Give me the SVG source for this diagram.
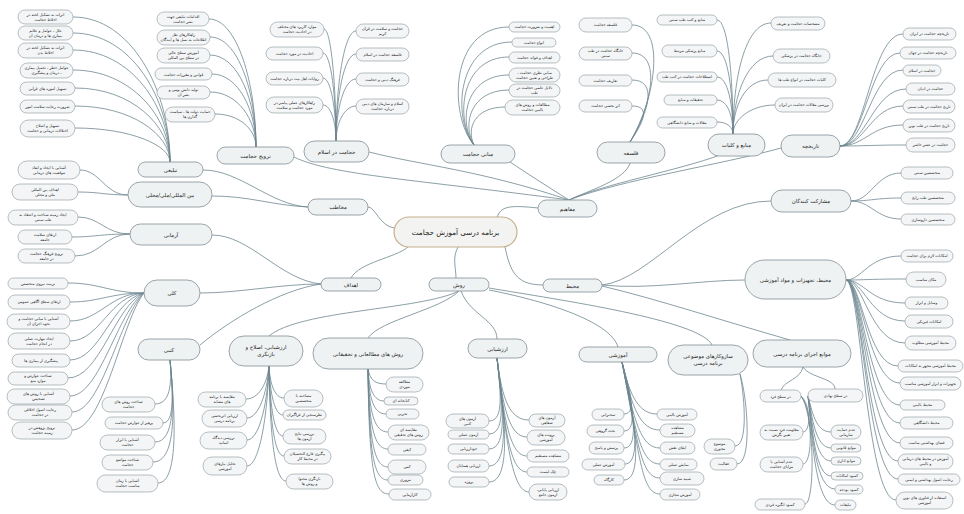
<svg xmlns="http://www.w3.org/2000/svg" width="964" height="514" viewBox="0 0 964 514">
<style>
rect{fill:#f3f5f6;stroke:#99a3a8;stroke-width:.7}
.m rect{fill:#eff2f3;stroke:#8f9aa0;stroke-width:.9}
.c rect{fill:#f3f3f1;stroke:#c6b08c;stroke-width:1.2}
text{font-family:"DejaVu Sans","Noto Sans",sans-serif;font-size:3.8px;fill:#1c1c1c;text-anchor:middle;direction:rtl}
.m text{font-size:5.4px}
.c text{font-size:7.2px}
#links path{fill:none;stroke:#6f8790;stroke-width:.8}
</style>
<rect x="0" y="0" width="964" height="514" style="fill:#fff;stroke:none"/>
<g id="links">
<path d="M497,218 C500,206 510,205 538,208"/>
<path d="M394,228 C380,226 375,207 368,207"/>
<path d="M408,247 C395,258 360,262 351,278"/>
<path d="M458,247 C452,258 456,268 456,278"/>
<path d="M505,247 C510,270 515,285 543,285"/>
<path d="M294,157 C330,175 420,180 569,200"/>
<path d="M369,152 C420,165 480,170 569,200"/>
<path d="M510,162 C525,172 545,185 569,200"/>
<path d="M630,163 C625,180 590,190 569,200"/>
<path d="M720,155 C680,170 600,185 569,200"/>
<path d="M781,148 C720,165 620,180 569,200"/>
<path d="M602,285 C650,280 700,201 771,201"/>
<path d="M602,285 C650,290 700,280 745,280"/>
<path d="M602,286 C660,300 720,320 790,340"/>
<path d="M459,291 C420,310 300,310 269,336"/>
<path d="M459,291 C440,310 380,320 368,338"/>
<path d="M461,291 C470,315 497,320 497,339"/>
<path d="M489,290 C540,300 610,320 618,347"/>
<path d="M489,288 C560,300 700,320 712,345"/>
<path d="M321,284 C280,280 250,235 212,235"/>
<path d="M321,284 C280,284 240,293 200,293"/>
<path d="M321,284 C280,290 230,320 200,345"/>
<path d="M308,207 C270,205 240,170 203,170"/>
<path d="M308,207 C270,205 250,196 212,196"/>
<path d="M73,17 C131,17 170,90 170,162"/>
<path d="M73,33 C131,33 170,98 170,162"/>
<path d="M73,50 C131,50 170,107 170,162"/>
<path d="M73,70 C131,70 170,117 170,162"/>
<path d="M75,88 C132,88 170,126 170,162"/>
<path d="M75,106 C132,106 170,135 170,162"/>
<path d="M75,128 C132,128 170,146 170,162"/>
<path d="M209,19 C237,19 256,83 256,147"/>
<path d="M210,37 C238,37 256,92 256,147"/>
<path d="M210,55 C238,55 256,101 256,147"/>
<path d="M212,74 C238,74 256,110 256,147"/>
<path d="M210,92 C238,92 256,120 256,147"/>
<path d="M215,114 C240,114 256,130 256,147"/>
<path d="M324,29 C331,29 336,85 336,141"/>
<path d="M323,53 C331,53 336,97 336,141"/>
<path d="M323,78 C331,78 336,110 336,141"/>
<path d="M323,105 C331,105 336,123 336,141"/>
<path d="M356,31 C344,31 336,86 336,141"/>
<path d="M356,54 C344,54 336,98 336,141"/>
<path d="M356,79 C344,79 336,110 336,141"/>
<path d="M356,106 C344,106 336,124 336,141"/>
<path d="M509,27 C449,27 449,116 474,145"/>
<path d="M512,42 C457,42 452,118 474,145"/>
<path d="M509,57 C460,57 455,120 474,145"/>
<path d="M509,75 C465,75 458,122 474,145"/>
<path d="M509,90 C470,90 462,125 474,145"/>
<path d="M505,107 C475,107 466,128 474,145"/>
<path d="M632,25 C667,25 655,102 630,142"/>
<path d="M632,53 C662,53 652,105 630,142"/>
<path d="M632,80 C657,80 650,110 630,142"/>
<path d="M632,106 C650,106 645,120 630,142"/>
<path d="M717,20 C728,20 733,77 733,134"/>
<path d="M717,51 C728,51 733,92 733,134"/>
<path d="M717,77 C728,77 733,105 733,134"/>
<path d="M717,100 C728,100 733,117 733,134"/>
<path d="M717,122 C728,122 733,128 733,134"/>
<path d="M771,23 C745,23 733,79 733,134"/>
<path d="M773,56 C748,56 733,95 733,134"/>
<path d="M768,80 C745,80 733,107 733,134"/>
<path d="M775,105 C750,105 733,120 733,134"/>
<path d="M840,146 C865,146 871,34 903,34"/>
<path d="M840,146 C864,146 870,53 900,53"/>
<path d="M840,146 C865,146 871,70 903,70"/>
<path d="M840,146 C866,146 873,89 906,89"/>
<path d="M840,146 C865,146 871,106 903,106"/>
<path d="M840,146 C865,146 871,125 903,125"/>
<path d="M840,146 C866,146 873,145 906,145"/>
<path d="M851,201 C871,201 876,173 901,173"/>
<path d="M851,201 C871,201 876,198 901,198"/>
<path d="M851,201 C871,201 876,219 901,219"/>
<path d="M846,280 C862,280 868,256 901,256"/>
<path d="M846,280 C864,280 870,279 906,279"/>
<path d="M846,280 C864,280 870,303 905,303"/>
<path d="M846,280 C864,280 870,321 905,321"/>
<path d="M846,280 C864,280 870,343 905,343"/>
<path d="M846,280 C862,280 867,366 898,366"/>
<path d="M846,280 C862,280 868,383 900,383"/>
<path d="M846,280 C862,280 868,405 900,405"/>
<path d="M846,280 C862,280 868,423 900,423"/>
<path d="M846,280 C862,280 868,443 900,443"/>
<path d="M846,280 C862,280 867,461 898,461"/>
<path d="M846,280 C862,280 867,479 898,479"/>
<path d="M846,280 C861,280 866,500 896,500"/>
<path d="M803,367 C800,380 785,380 781,390"/>
<path d="M803,367 C810,378 835,378 835,389"/>
<path d="M801,396 C811,405 811,432 803,432"/>
<path d="M801,396 C813,410 813,464 803,464"/>
<path d="M801,396 C815,415 815,504 805,504"/>
<path d="M808,396 C812,410 815,432 831,432"/>
<path d="M808,396 C812,415 815,448 831,448"/>
<path d="M808,396 C812,420 815,461 831,461"/>
<path d="M808,396 C812,425 815,476 831,476"/>
<path d="M808,396 C812,430 815,489 835,489"/>
<path d="M808,396 C812,435 815,505 835,505"/>
<path d="M740,374 C745,400 748,446 735,446"/>
<path d="M740,374 C748,400 752,464 737,464"/>
<path d="M622,362 C628,385 638,414 624,414"/>
<path d="M622,362 C629,390 640,431 624,431"/>
<path d="M622,362 C630,395 642,448 624,448"/>
<path d="M622,362 C631,400 644,464 625,464"/>
<path d="M622,362 C632,405 646,480 624,480"/>
<path d="M622,362 C630,398 640,414 657,414"/>
<path d="M622,362 C632,410 641,430 660,430"/>
<path d="M622,362 C634,422 641,448 660,448"/>
<path d="M622,362 C636,434 641,464 660,464"/>
<path d="M622,362 C638,444 641,478 660,478"/>
<path d="M622,362 C640,455 641,494 660,494"/>
<path d="M497,358 C500,390 505,421 489,421"/>
<path d="M497,358 C501,395 507,434 489,434"/>
<path d="M497,358 C502,400 509,449 489,449"/>
<path d="M497,358 C503,405 511,466 489,466"/>
<path d="M497,358 C504,410 513,482 489,482"/>
<path d="M497,358 C502,400 510,420 529,420"/>
<path d="M497,358 C503,410 510,437 527,437"/>
<path d="M497,358 C504,420 510,456 527,456"/>
<path d="M497,358 C505,430 510,472 527,472"/>
<path d="M497,358 C506,440 512,492 529,492"/>
<path d="M368,369 C370,380 375,384 386,384"/>
<path d="M368,369 C369,390 374,401 384,401"/>
<path d="M368,369 C369,400 374,414 386,414"/>
<path d="M368,369 C369,415 375,432 388,432"/>
<path d="M368,369 C369,430 375,449 388,449"/>
<path d="M368,369 C369,445 375,467 388,467"/>
<path d="M368,369 C369,460 375,480 388,480"/>
<path d="M368,369 C369,475 375,494 389,494"/>
<path d="M269,366 C270,385 275,398 284,398"/>
<path d="M269,366 C270,395 275,415 283,415"/>
<path d="M269,366 C270,410 275,436 283,436"/>
<path d="M269,366 C270,425 275,456 284,456"/>
<path d="M269,366 C270,445 276,481 286,481"/>
<path d="M269,366 C267,385 258,399 246,399"/>
<path d="M269,366 C267,395 258,418 247,418"/>
<path d="M269,366 C267,410 258,440 247,440"/>
<path d="M269,366 C267,425 258,466 247,466"/>
<path d="M130,234 C105,234 100,217 78,217"/>
<path d="M130,234 C100,234 95,237 72,237"/>
<path d="M130,234 C105,234 100,256 75,256"/>
<path d="M144,293 C110,293 100,283 68,283"/>
<path d="M144,293 C110,293 100,302 70,302"/>
<path d="M144,293 C110,293 100,321 70,321"/>
<path d="M144,293 C110,295 100,341 70,341"/>
<path d="M144,293 C112,300 100,360 70,360"/>
<path d="M144,293 C115,305 100,378 68,378"/>
<path d="M144,293 C118,310 100,396 70,396"/>
<path d="M144,293 C120,315 102,412 72,412"/>
<path d="M144,293 C122,320 104,430 72,430"/>
<path d="M170,360 C172,385 170,404 155,404"/>
<path d="M170,360 C173,390 175,423 163,423"/>
<path d="M170,360 C174,400 175,442 155,442"/>
<path d="M170,360 C175,410 176,462 153,462"/>
<path d="M170,360 C176,420 178,483 158,483"/>
<path d="M128,195 C105,195 100,170 80,170"/>
<path d="M128,195 C105,195 100,192 78,192"/>
</g>
<g id="center" class="c"><rect x="394" y="217" width="123" height="30" rx="15"/><text x="455.5" y="234.5">برنامه درسی آموزش حجامت</text></g>
<g id="mafahim" class="m"><rect x="538" y="200" width="59" height="17" rx="8.5"/><text x="567.5" y="210.5">مفاهیم</text></g>
<g id="mokhatab" class="m"><rect x="308" y="199" width="60" height="16" rx="8"/><text x="338" y="209">مخاطب</text></g>
<g id="ahdaf" class="m"><rect x="321" y="278" width="60" height="13" rx="6.5"/><text x="351" y="286.5">اهداف</text></g>
<g id="ravesh" class="m"><rect x="429" y="278" width="60" height="13" rx="6.5"/><text x="459" y="286.5">روش</text></g>
<g id="mohit" class="m"><rect x="543" y="279" width="59" height="13" rx="6.5"/><text x="572.5" y="287.5">محیط</text></g>
<g id="tarvij" class="m"><rect x="217" y="147" width="77" height="17" rx="8.5"/><text x="255.5" y="157.5">ترویج حجامت</text></g>
<g id="eslam" class="m"><rect x="304" y="141" width="65" height="21" rx="10.5"/><text x="336.5" y="153.5">حجامت در اسلام</text></g>
<g id="mabani" class="m"><rect x="441" y="145" width="74" height="18" rx="9"/><text x="478" y="156">مبانی حجامت</text></g>
<g id="falsafe" class="m"><rect x="597" y="142" width="68" height="21" rx="10.5"/><text x="631" y="154.5">فلسفه</text></g>
<g id="manabe" class="m"><rect x="708" y="134" width="57" height="22" rx="11"/><text x="736.5" y="147">منابع و کلیات</text></g>
<g id="tarikhche" class="m"><rect x="781" y="135" width="59" height="22" rx="11"/><text x="810.5" y="148">تاریخچه</text></g>
<g id="mosharekat" class="m"><rect x="771" y="190" width="80" height="22" rx="11"/><text x="811" y="203">مشارکت کنندگان</text></g>
<g id="tajhizat" class="m"><rect x="745" y="260" width="101" height="39" rx="19.5"/><text x="795.5" y="281.5">محیط، تجهیزات و مواد آموزشی</text></g>
<g id="mavane" class="m"><rect x="753" y="340" width="98" height="27" rx="13.5"/><text x="802" y="355.5">موانع اجرای برنامه درسی</text></g>
<g id="fard"><rect x="760" y="390" width="41" height="12" rx="6"/><text x="780.5" y="397.5">در سطح فرد</text></g>
<g id="nahadi"><rect x="808" y="389" width="55" height="13" rx="6.5"/><text x="835.5" y="397">در سطح نهادی</text></g>
<g id="eslah" class="m"><rect x="229" y="336" width="74" height="30" rx="15"/><text x="266" y="349"><tspan x="266">ارزشیابی، اصلاح و</tspan><tspan x="266" dy="6.5">بازنگری</tspan></text></g>
<g id="motaleati" class="m"><rect x="313" y="338" width="110" height="31" rx="15.5"/><text x="368" y="355.5">روش های مطالعاتی و تحقیقاتی</text></g>
<g id="arzeshyabi" class="m"><rect x="468" y="339" width="59" height="19" rx="9.5"/><text x="497.5" y="350.5">ارزشیابی</text></g>
<g id="amoozeshi" class="m"><rect x="579" y="347" width="78" height="15" rx="7.5"/><text x="618" y="356.5">آموزشی</text></g>
<g id="sazokar" class="m"><rect x="668" y="345" width="80" height="30" rx="15"/><text x="708" y="358"><tspan x="708">سازوکارهای موضوعی</tspan><tspan x="708" dy="6.5">برنامه درسی</tspan></text></g>
<g id="armani" class="m"><rect x="130" y="224" width="82" height="21" rx="10.5"/><text x="171" y="236.5">آرمانی</text></g>
<g id="koli" class="m"><rect x="144" y="280" width="56" height="26" rx="13"/><text x="172" y="295">کلی</text></g>
<g id="katbi" class="m"><rect x="138" y="339" width="62" height="21" rx="10.5"/><text x="169" y="351.5">کتبی</text></g>
<g id="tablighi" class="m"><rect x="138" y="162" width="65" height="15" rx="7.5"/><text x="170.5" y="171.5">تبلیغی</text></g>
<g id="melli" class="m"><rect x="128" y="182" width="84" height="25" rx="12.5"/><text x="170" y="196.5">بین المللی/ملی/محلی</text></g>
<g id="t1"><rect x="18" y="10" width="55" height="14" rx="7"/><text x="45.5" y="15.8"><tspan x="45.5">اثرات به تشکیل لخته در</tspan><tspan x="45.5" dy="5">اخلاط حجامت</tspan></text></g>
<g id="t2"><rect x="18" y="26" width="55" height="14" rx="7"/><text x="45.5" y="31.8"><tspan x="45.5">علل ، عوامل و علائم</tspan><tspan x="45.5" dy="5">بیماری ها و درمان آن</tspan></text></g>
<g id="t3"><rect x="18" y="43" width="55" height="15" rx="7.5"/><text x="45.5" y="49.3"><tspan x="45.5">اثرات به تشکیل لخته در</tspan><tspan x="45.5" dy="5">اخلاط بدن</tspan></text></g>
<g id="t4"><rect x="20" y="63" width="53" height="15" rx="7.5"/><text x="46.5" y="69.3"><tspan x="46.5">عوامل خطر ، تحمیل بیماری</tspan><tspan x="46.5" dy="5">، درمان و پیشگیری</tspan></text></g>
<g id="t5"><rect x="20" y="82" width="55" height="13" rx="6.5"/><text x="47.5" y="90">تسهیل آموزه های قرآنی</text></g>
<g id="t6"><rect x="20" y="100" width="55" height="13" rx="6.5"/><text x="47.5" y="108">ضرورت رعایت سلامت امور</text></g>
<g id="t7"><rect x="20" y="120" width="55" height="17" rx="8.5"/><text x="47.5" y="127.3"><tspan x="47.5">تسهیل و اصلاح</tspan><tspan x="47.5" dy="5">اختلالات درمانی و حجامت</tspan></text></g>
<g id="r1"><rect x="157" y="12" width="52" height="14" rx="7"/><text x="183" y="17.8"><tspan x="183">اقدامات تبلیغی جهت</tspan><tspan x="183" dy="5">نشر حجامت</tspan></text></g>
<g id="r2"><rect x="157" y="30" width="53" height="15" rx="7.5"/><text x="183.5" y="36.3"><tspan x="183.5">راهکارهای نقل</tspan><tspan x="183.5" dy="5">اطلاعات به نسل ها و آیندگان</tspan></text></g>
<g id="r3"><rect x="157" y="48" width="53" height="15" rx="7.5"/><text x="183.5" y="54.3"><tspan x="183.5">آموزش سطح عالی</tspan><tspan x="183.5" dy="5">در سطح بین المللی</tspan></text></g>
<g id="r4"><rect x="155" y="68" width="57" height="12" rx="6"/><text x="183.5" y="75.5">قوانین و مقررات حجامت</text></g>
<g id="r5"><rect x="157" y="86" width="53" height="13" rx="6.5"/><text x="183.5" y="91.3"><tspan x="183.5">تولید دانش بومی و</tspan><tspan x="183.5" dy="5">نشر آن</tspan></text></g>
<g id="r6"><rect x="165" y="107" width="50" height="15" rx="7.5"/><text x="190" y="113.3"><tspan x="190">حمایت دولت ها ، سیاست</tspan><tspan x="190" dy="5">گذاری ها</tspan></text></g>
<g id="h1"><rect x="270" y="22" width="54" height="15" rx="7.5"/><text x="297" y="28.3"><tspan x="297">موارد کاربرد های مختلف</tspan><tspan x="297" dy="5">در احادیث حجامت</tspan></text></g>
<g id="h2"><rect x="266" y="47" width="57" height="13" rx="6.5"/><text x="294.5" y="55">احادیث در مورد حجامت</text></g>
<g id="h3"><rect x="266" y="72" width="57" height="13" rx="6.5"/><text x="294.5" y="80">روایات اهل بیت درباره حجامت</text></g>
<g id="h4"><rect x="266" y="97" width="57" height="16" rx="8"/><text x="294.5" y="103.8"><tspan x="294.5">راهکارهای عملی پیامبر در</tspan><tspan x="294.5" dy="5">مورد حجامت و سلامت</tspan></text></g>
<g id="h5"><rect x="356" y="24" width="53" height="14" rx="7"/><text x="382.5" y="29.8"><tspan x="382.5">حجامت و سلامت در قرآن</tspan><tspan x="382.5" dy="5">کریم</tspan></text></g>
<g id="h6"><rect x="356" y="48" width="53" height="13" rx="6.5"/><text x="382.5" y="56">فلسفه حجامت در اسلام</text></g>
<g id="h7"><rect x="356" y="73" width="53" height="13" rx="6.5"/><text x="382.5" y="81">فرهنگ دینی و حجامت</text></g>
<g id="h8"><rect x="356" y="99" width="53" height="15" rx="7.5"/><text x="382.5" y="105.3"><tspan x="382.5">اسلام و سازمان های دینی</tspan><tspan x="382.5" dy="5">درباره حجامت</tspan></text></g>
<g id="m1"><rect x="509" y="22" width="51" height="10" rx="5"/><text x="534.5" y="28.3">اهمیت و ضرورت حجامت</text></g>
<g id="m2"><rect x="512" y="38" width="44" height="9" rx="4.5"/><text x="534" y="43.8">انواع حجامت</text></g>
<g id="m3"><rect x="509" y="52" width="51" height="11" rx="5.5"/><text x="534.5" y="58.8">اهداف و فوائد حجامت</text></g>
<g id="m4"><rect x="509" y="68" width="51" height="14" rx="7"/><text x="534.5" y="73.8"><tspan x="534.5">مبانی نظری حجامت ،</tspan><tspan x="534.5" dy="5">طراحی و تعیین حجامت</tspan></text></g>
<g id="m5"><rect x="509" y="84" width="51" height="13" rx="6.5"/><text x="534.5" y="89.3"><tspan x="534.5">دلایل علمی حجامت در</tspan><tspan x="534.5" dy="5">طب</tspan></text></g>
<g id="m6"><rect x="505" y="100" width="55" height="15" rx="7.5"/><text x="532.5" y="106.3"><tspan x="532.5">مطالعات و روش های</tspan><tspan x="532.5" dy="5">بالینی حجامت</tspan></text></g>
<g id="f1"><rect x="579" y="18" width="53" height="14" rx="7"/><text x="605.5" y="26.3">فلسفه حجامت</text></g>
<g id="f2"><rect x="579" y="47" width="53" height="13" rx="6.5"/><text x="605.5" y="52.3"><tspan x="605.5">جایگاه حجامت در طب</tspan><tspan x="605.5" dy="5">سنتی</tspan></text></g>
<g id="f3"><rect x="579" y="75" width="53" height="11" rx="5.5"/><text x="605.5" y="81.8">تعاریف حجامت</text></g>
<g id="f4"><rect x="579" y="100" width="53" height="12" rx="6"/><text x="605.5" y="107.3">اثر بخشی حجامت</text></g>
<g id="k1"><rect x="657" y="15" width="60" height="10" rx="5"/><text x="687" y="21.3">منابع و کتب طب سنتی</text></g>
<g id="k2"><rect x="662" y="45" width="55" height="12" rx="6"/><text x="689.5" y="52.3">منابع پزشکی مرتبط</text></g>
<g id="k3"><rect x="657" y="72" width="60" height="10" rx="5"/><text x="687" y="78.3">اصطلاحات حجامت در کتب طب</text></g>
<g id="k4"><rect x="664" y="95" width="53" height="10" rx="5"/><text x="690.5" y="101.3">تحقیقات و منابع</text></g>
<g id="k5"><rect x="657" y="117" width="60" height="11" rx="5.5"/><text x="687" y="123.8">مقالات و منابع دانشگاهی</text></g>
<g id="k6"><rect x="771" y="17" width="54" height="13" rx="6.5"/><text x="798" y="24.8">مشخصات حجامت و تعریف</text></g>
<g id="k7"><rect x="773" y="49" width="57" height="14" rx="7"/><text x="801.5" y="57.3">جایگاه حجامت در پزشکی</text></g>
<g id="k8"><rect x="768" y="73" width="68" height="14" rx="7"/><text x="802" y="81.3">کلیات حجامت در انواع طب ها</text></g>
<g id="k9"><rect x="775" y="98" width="58" height="14" rx="7"/><text x="804" y="106.3">بررسی مقالات حجامت در ایران</text></g>
<g id="d1"><rect x="903" y="28" width="53" height="12" rx="6"/><text x="929.5" y="35.3">تاریخچه حجامت در ایران</text></g>
<g id="d2"><rect x="900" y="47" width="56" height="12" rx="6"/><text x="928" y="54.3">تاریخچه حجامت در جهان</text></g>
<g id="d3"><rect x="903" y="65" width="38" height="11" rx="5.5"/><text x="922" y="71.8">حجامت در اسلام</text></g>
<g id="d4"><rect x="906" y="83" width="49" height="12" rx="6"/><text x="930.5" y="90.3">حجامت در ادیان</text></g>
<g id="d5"><rect x="903" y="100" width="52" height="13" rx="6.5"/><text x="929" y="107.8">تاریخ حجامت در طب سنتی</text></g>
<g id="d6"><rect x="903" y="119" width="52" height="13" rx="6.5"/><text x="929" y="126.8">تاریخ حجامت در طب نوین</text></g>
<g id="d7"><rect x="906" y="138" width="49" height="14" rx="7"/><text x="930.5" y="146.3">حجامت در عصر حاضر</text></g>
<g id="s1"><rect x="901" y="167" width="52" height="12" rx="6"/><text x="927" y="174.3">متخصصین سنتی</text></g>
<g id="s2"><rect x="901" y="192" width="54" height="12" rx="6"/><text x="928" y="199.3">متخصصین طب رایج</text></g>
<g id="s3"><rect x="901" y="214" width="54" height="11" rx="5.5"/><text x="928" y="220.8">متخصصین داروسازی</text></g>
<g id="e1"><rect x="901" y="250" width="52" height="12" rx="6"/><text x="927" y="257.3">امکانات لازم برای حجامت</text></g>
<g id="e2"><rect x="906" y="272" width="40" height="15" rx="7.5"/><text x="926" y="280.8">مکان مناسب</text></g>
<g id="e3"><rect x="905" y="297" width="43" height="12" rx="6"/><text x="926.5" y="304.3">وسایل و ابزار</text></g>
<g id="e4"><rect x="905" y="315" width="48" height="13" rx="6.5"/><text x="929" y="322.8">امکانات فیزیکی</text></g>
<g id="e5"><rect x="905" y="336" width="51" height="14" rx="7"/><text x="930.5" y="344.3">محیط آموزشی مطلوب</text></g>
<g id="e6"><rect x="898" y="360" width="65" height="12" rx="6"/><text x="930.5" y="367.3">محیط آموزشی مجهز به امکانات</text></g>
<g id="e7"><rect x="900" y="377" width="61" height="13" rx="6.5"/><text x="930.5" y="384.8">تجهیزات و ابزار آموزشی مناسب</text></g>
<g id="e8"><rect x="900" y="400" width="45" height="10" rx="5"/><text x="922.5" y="406.3">محیط بالینی</text></g>
<g id="e9"><rect x="900" y="417" width="53" height="12" rx="6"/><text x="926.5" y="424.3">محیط دانشگاهی</text></g>
<g id="e10"><rect x="900" y="437" width="53" height="12" rx="6"/><text x="926.5" y="444.3">فضای بهداشتی مناسب</text></g>
<g id="e11"><rect x="898" y="454" width="55" height="15" rx="7.5"/><text x="925.5" y="460.3"><tspan x="925.5">آموزش در محیط های درمانی</tspan><tspan x="925.5" dy="5">و بالینی</tspan></text></g>
<g id="e12"><rect x="898" y="474" width="62" height="11" rx="5.5"/><text x="929" y="480.8">رعایت اصول بهداشتی و ایمنی</text></g>
<g id="e13"><rect x="896" y="492" width="57" height="17" rx="8.5"/><text x="924.5" y="499.3"><tspan x="924.5">استفاده از فناوری های نوین</tspan><tspan x="924.5" dy="5">آموزشی</tspan></text></g>
<g id="a1"><rect x="760" y="425" width="43" height="15" rx="7.5"/><text x="781.5" y="431.3"><tspan x="781.5">مقاومت فرد نسبت به</tspan><tspan x="781.5" dy="5">تغییر نگرش</tspan></text></g>
<g id="a2"><rect x="760" y="457" width="43" height="15" rx="7.5"/><text x="781.5" y="463.3"><tspan x="781.5">عدم آشنایی با</tspan><tspan x="781.5" dy="5">مزایای حجامت</tspan></text></g>
<g id="a3"><rect x="755" y="499" width="50" height="11" rx="5.5"/><text x="780" y="505.8">کمبود انگیزه فردی</text></g>
<g id="b1"><rect x="831" y="425" width="30" height="14" rx="7"/><text x="846" y="430.8"><tspan x="846">عدم حمایت</tspan><tspan x="846" dy="5">سازمانی</tspan></text></g>
<g id="b2"><rect x="831" y="444" width="30" height="8" rx="4"/><text x="846" y="449.3">موانع قانونی</text></g>
<g id="b3"><rect x="831" y="457" width="30" height="8" rx="4"/><text x="846" y="462.3">موانع اداری</text></g>
<g id="b4"><rect x="831" y="472" width="32" height="8" rx="4"/><text x="847" y="477.3">کمبود امکانات</text></g>
<g id="b5"><rect x="835" y="485" width="28" height="9" rx="4.5"/><text x="849" y="490.8">کمبود بودجه</text></g>
<g id="b6"><rect x="835" y="500" width="21" height="10" rx="5"/><text x="845.5" y="506.3">تبلیغات</text></g>
<g id="z1"><rect x="704" y="439" width="31" height="15" rx="7.5"/><text x="719.5" y="445.3"><tspan x="719.5">موضوع</tspan><tspan x="719.5" dy="5">محوری</tspan></text></g>
<g id="z2"><rect x="710" y="458" width="27" height="12" rx="6"/><text x="723.5" y="465.3">فعالیت</text></g>
<g id="o1"><rect x="592" y="409" width="32" height="11" rx="5.5"/><text x="608" y="415.8">سخنرانی</text></g>
<g id="o2"><rect x="587" y="425" width="37" height="12" rx="6"/><text x="605.5" y="432.3">بحث گروهی</text></g>
<g id="o3"><rect x="589" y="442" width="35" height="12" rx="6"/><text x="606.5" y="449.3">پرسش و پاسخ</text></g>
<g id="o4"><rect x="582" y="459" width="43" height="11" rx="5.5"/><text x="603.5" y="465.8">آموزش عملی</text></g>
<g id="o5"><rect x="594" y="475" width="30" height="10" rx="5"/><text x="609" y="481.3">کارگاه</text></g>
<g id="o6"><rect x="657" y="409" width="40" height="11" rx="5.5"/><text x="677" y="415.8">آموزش بالینی</text></g>
<g id="o7"><rect x="660" y="424" width="35" height="13" rx="6.5"/><text x="677.5" y="429.3"><tspan x="677.5">مشاهده</tspan><tspan x="677.5" dy="5">مستقیم</tspan></text></g>
<g id="o8"><rect x="660" y="442" width="35" height="12" rx="6"/><text x="677.5" y="449.3">ایفای نقش</text></g>
<g id="o9"><rect x="660" y="459" width="37" height="11" rx="5.5"/><text x="678.5" y="465.8">نمایش عملی</text></g>
<g id="o10"><rect x="660" y="472" width="44" height="13" rx="6.5"/><text x="682" y="479.8">شبیه سازی</text></g>
<g id="o11"><rect x="660" y="489" width="40" height="11" rx="5.5"/><text x="680" y="495.8">آموزش مجازی</text></g>
<g id="v1"><rect x="446" y="414" width="43" height="14" rx="7"/><text x="467.5" y="419.8"><tspan x="467.5">آزمون های</tspan><tspan x="467.5" dy="5">کتبی</tspan></text></g>
<g id="v2"><rect x="448" y="430" width="41" height="9" rx="4.5"/><text x="468.5" y="435.8">آزمون عملی</text></g>
<g id="v3"><rect x="448" y="444" width="41" height="10" rx="5"/><text x="468.5" y="450.3">خودارزیابی</text></g>
<g id="v4"><rect x="448" y="460" width="41" height="12" rx="6"/><text x="468.5" y="467.3">ارزیابی همتایان</text></g>
<g id="v5"><rect x="449" y="477" width="40" height="10" rx="5"/><text x="469" y="483.3">پروژه</text></g>
<g id="v6"><rect x="529" y="414" width="36" height="13" rx="6.5"/><text x="547" y="419.3"><tspan x="547">آزمون های</tspan><tspan x="547" dy="5">شفاهی</tspan></text></g>
<g id="v7"><rect x="527" y="430" width="38" height="15" rx="7.5"/><text x="546" y="436.3"><tspan x="546">پرونده های</tspan><tspan x="546" dy="5">آموزشی</tspan></text></g>
<g id="v8"><rect x="527" y="450" width="42" height="12" rx="6"/><text x="548" y="457.3">مشاهده مستقیم</text></g>
<g id="v9"><rect x="527" y="467" width="42" height="10" rx="5"/><text x="548" y="473.3">چک لیست</text></g>
<g id="v10"><rect x="529" y="484" width="38" height="16" rx="8"/><text x="548" y="490.8"><tspan x="548">ارزیابی پایانی،</tspan><tspan x="548" dy="5">آزمون جامع</tspan></text></g>
<g id="q1"><rect x="386" y="377" width="37" height="15" rx="7.5"/><text x="404.5" y="383.3"><tspan x="404.5">مطالعه</tspan><tspan x="404.5" dy="5">موردی</tspan></text></g>
<g id="q2"><rect x="384" y="397" width="34" height="8" rx="4"/><text x="401" y="402.3">کتابخانه ای</text></g>
<g id="q3"><rect x="386" y="409" width="33" height="10" rx="5"/><text x="402.5" y="415.3">تجربی</text></g>
<g id="q4"><rect x="388" y="425" width="41" height="15" rx="7.5"/><text x="408.5" y="431.3"><tspan x="408.5">مقایسه ای</tspan><tspan x="408.5" dy="5">روش های تحقیقی</tspan></text></g>
<g id="q5"><rect x="388" y="444" width="38" height="11" rx="5.5"/><text x="407" y="450.8">کیفی</text></g>
<g id="q6"><rect x="388" y="460" width="38" height="14" rx="7"/><text x="407" y="468.3">کمی</text></g>
<g id="q7"><rect x="388" y="475" width="35" height="10" rx="5"/><text x="405.5" y="481.3">مروری</text></g>
<g id="q8"><rect x="389" y="489" width="42" height="11" rx="5.5"/><text x="410" y="495.8">کارآزمایی</text></g>
<g id="w1"><rect x="284" y="390" width="39" height="17" rx="8.5"/><text x="303.5" y="397.3"><tspan x="303.5">مصاحبه با</tspan><tspan x="303.5" dy="5">متخصصین</tspan></text></g>
<g id="w2"><rect x="283" y="410" width="43" height="10" rx="5"/><text x="304.5" y="416.3">نظرسنجی از فراگیران</text></g>
<g id="w3"><rect x="283" y="429" width="43" height="15" rx="7.5"/><text x="304.5" y="435.3"><tspan x="304.5">بررسی نتایج</tspan><tspan x="304.5" dy="5">آزمون ها</tspan></text></g>
<g id="w4"><rect x="284" y="449" width="47" height="15" rx="7.5"/><text x="307.5" y="455.3"><tspan x="307.5">پیگیری فارغ التحصیلان</tspan><tspan x="307.5" dy="5">در محیط کار</tspan></text></g>
<g id="w5"><rect x="286" y="474" width="47" height="15" rx="7.5"/><text x="309.5" y="480.3"><tspan x="309.5">بازنگری محتوا</tspan><tspan x="309.5" dy="5">و روش ها</tspan></text></g>
<g id="w6"><rect x="198" y="392" width="48" height="15" rx="7.5"/><text x="222" y="398.3"><tspan x="222">مقایسه با برنامه</tspan><tspan x="222" dy="5">های مشابه</tspan></text></g>
<g id="w7"><rect x="202" y="410" width="45" height="17" rx="8.5"/><text x="224.5" y="417.3"><tspan x="224.5">ارزیابی اثربخشی</tspan><tspan x="224.5" dy="5">برنامه درسی</tspan></text></g>
<g id="w8"><rect x="200" y="432" width="47" height="17" rx="8.5"/><text x="223.5" y="439.3"><tspan x="223.5">بررسی دیدگاه</tspan><tspan x="223.5" dy="5">اساتید</tspan></text></g>
<g id="w9"><rect x="203" y="457" width="44" height="18" rx="9"/><text x="225" y="464.8"><tspan x="225">تحلیل نیازهای</tspan><tspan x="225" dy="5">آموزشی</tspan></text></g>
<g id="y1"><rect x="8" y="210" width="70" height="15" rx="7.5"/><text x="43" y="216.3"><tspan x="43">ایجاد زمینه شناخت و اعتقاد به</tspan><tspan x="43" dy="5">طب سنتی</tspan></text></g>
<g id="y2"><rect x="18" y="230" width="54" height="14" rx="7"/><text x="45" y="235.8"><tspan x="45">ارتقای سلامت</tspan><tspan x="45" dy="5">جامعه</tspan></text></g>
<g id="y3"><rect x="18" y="249" width="57" height="14" rx="7"/><text x="46.5" y="254.8"><tspan x="46.5">ترویج فرهنگ حجامت</tspan><tspan x="46.5" dy="5">در جامعه</tspan></text></g>
<g id="c1"><rect x="8" y="278" width="60" height="11" rx="5.5"/><text x="38" y="284.8">تربیت نیروی متخصص</text></g>
<g id="c2"><rect x="8" y="295" width="62" height="14" rx="7"/><text x="39" y="303.3">ارتقای سطح آگاهی عمومی</text></g>
<g id="c3"><rect x="7" y="314" width="63" height="15" rx="7.5"/><text x="38.5" y="320.3"><tspan x="38.5">آشنایی با مبانی حجامت و</tspan><tspan x="38.5" dy="5">نحوه اجرای آن</tspan></text></g>
<g id="c4"><rect x="8" y="333" width="62" height="16" rx="8"/><text x="39" y="339.8"><tspan x="39">ایجاد مهارت عملی</tspan><tspan x="39" dy="5">در انجام حجامت</tspan></text></g>
<g id="c5"><rect x="12" y="354" width="58" height="13" rx="6.5"/><text x="41" y="361.8">پیشگیری از بیماری ها</text></g>
<g id="c6"><rect x="8" y="372" width="60" height="13" rx="6.5"/><text x="38" y="377.3"><tspan x="38">شناخت عوارض و</tspan><tspan x="38" dy="5">موارد منع</tspan></text></g>
<g id="c7"><rect x="7" y="389" width="63" height="15" rx="7.5"/><text x="38.5" y="395.3"><tspan x="38.5">آشنایی با روش های</tspan><tspan x="38.5" dy="5">تشخیص</tspan></text></g>
<g id="c8"><rect x="8" y="405" width="64" height="15" rx="7.5"/><text x="40" y="411.3"><tspan x="40">رعایت اصول اخلاقی</tspan><tspan x="40" dy="5">در حجامت</tspan></text></g>
<g id="c9"><rect x="12" y="422" width="60" height="17" rx="8.5"/><text x="42" y="429.3"><tspan x="42">ترویج پژوهش در</tspan><tspan x="42" dy="5">زمینه حجامت</tspan></text></g>
<g id="x1"><rect x="102" y="397" width="53" height="15" rx="7.5"/><text x="128.5" y="403.3"><tspan x="128.5">شناخت روش های</tspan><tspan x="128.5" dy="5">حجامت</tspan></text></g>
<g id="x2"><rect x="105" y="417" width="58" height="12" rx="6"/><text x="134" y="424.3">پرهیز از عوارض حجامت</text></g>
<g id="x3"><rect x="100" y="435" width="55" height="15" rx="7.5"/><text x="127.5" y="441.3"><tspan x="127.5">آشنایی با ابزار</tspan><tspan x="127.5" dy="5">حجامت</tspan></text></g>
<g id="x4"><rect x="102" y="455" width="51" height="15" rx="7.5"/><text x="127.5" y="461.3"><tspan x="127.5">شناخت مواضع</tspan><tspan x="127.5" dy="5">حجامت</tspan></text></g>
<g id="x5"><rect x="97" y="475" width="61" height="17" rx="8.5"/><text x="127.5" y="482.3"><tspan x="127.5">آشنایی با زمان</tspan><tspan x="127.5" dy="5">مناسب حجامت</tspan></text></g>
<g id="bb1"><rect x="18" y="161" width="62" height="18" rx="9"/><text x="49" y="168.8"><tspan x="49">آشنایی با ایجاد و ابعاد</tspan><tspan x="49" dy="5">موقعیت های درمانی</tspan></text></g>
<g id="bb2"><rect x="12" y="184" width="66" height="16" rx="8"/><text x="45" y="190.8"><tspan x="45">اهداف بین المللی</tspan><tspan x="45" dy="5">ملی و محلی</tspan></text></g>
</svg>
